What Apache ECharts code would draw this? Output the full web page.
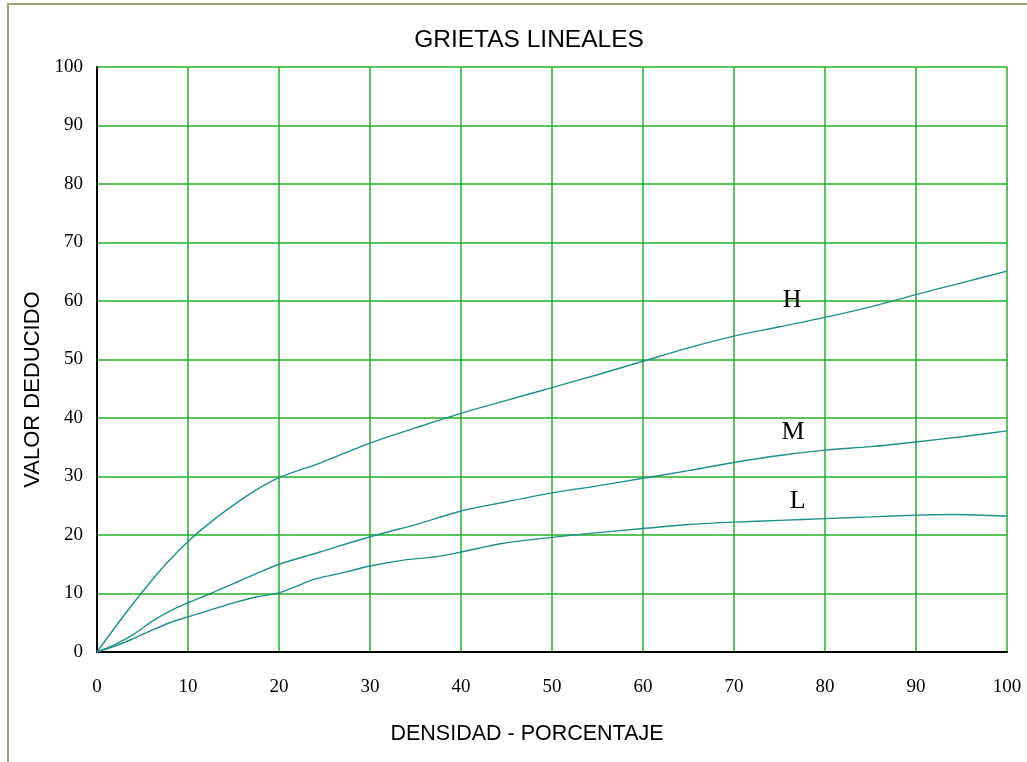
<!DOCTYPE html>
<html>
<head>
<meta charset="utf-8">
<script src="https://cdn.jsdelivr.net/npm/echarts@6/dist/echarts.min.js"></script>
<style>
html,body{margin:0;padding:0;background:#fff;}
#chart{width:1027px;height:762px;}
</style>
</head>
<body>
<div id="chart"></div>
<script>
// Data
const xTicks = [0, 10, 20, 30, 40, 50, 60, 70, 80, 90, 100];
const yTicks = [0, 10, 20, 30, 40, 50, 60, 70, 80, 90, 100];

const seriesH = [[0,0],[2.5,5.3],[5,10.3],[7.5,14.9],[10,18.9],[12.5,22.2],[15,25.1],[17.5,27.7],[20,29.8],[24.5,32.3],[30,35.7],[35,38.3],[40,40.8],[45,43],[50,45.2],[55,47.4],[60,49.7],[65,52],[70,54],[75,55.6],[80,57.2],[85,59],[90,61.1],[95,63.1],[100,65.1]];
const seriesM = [[0,0],[2,1.3],[4,3],[6,5.2],[8,7],[10,8.4],[12.5,10],[15,11.7],[17.5,13.4],[20,15],[24.5,17.1],[30,19.7],[35.5,22],[40,24.1],[44.7,25.6],[50,27.2],[55,28.4],[60,29.7],[65,31],[70,32.4],[75,33.6],[80,34.5],[85,35.1],[90,35.9],[95,36.8],[100,37.8]];
const seriesL = [[0,0],[2,1],[4,2.3],[6,3.7],[8,5],[10,6],[12.5,7.2],[15,8.4],[17.5,9.4],[20,10.1],[22,11.3],[24,12.5],[27.4,13.7],[30,14.7],[33.7,15.7],[37.3,16.3],[40,17.1],[44.7,18.6],[50,19.6],[55,20.4],[60,21.1],[65,21.8],[70,22.2],[75,22.5],[80,22.8],[85,23.1],[90,23.4],[94,23.5],[100,23.2]];

const curveNames = ['H', 'M', 'L'];
const curveLabelPos = [[76.4, 60.2], [76.5, 37.6], [77.0, 25.8]];

const chart = echarts.init(document.getElementById('chart'));
const lineColor = '#1f8f8c';
const gridGreen = '#22b022';
const serif = "'Liberation Serif', 'Times New Roman', serif";
const sans = "'Liberation Sans', Arial, sans-serif";

const allSeries = [seriesH, seriesM, seriesL];

chart.setOption({
  animation: false,
  backgroundColor: '#ffffff',
  title: {
    text: 'GRIETAS LINEALES',
    left: 524,
    top: 23,
    textAlign: 'center',
    textStyle: { fontFamily: sans, fontSize: 24.5, fontWeight: 'normal', color: '#000' }
  },
  graphic: [{
    type: 'rect',
    shape: { x: 8, y: 4, width: 1040, height: 800 },
    style: { fill: 'none', stroke: '#a0a070', lineWidth: 2 },
    silent: true,
    z: -1
  }],
  grid: { left: 97, right: 20, top: 67, bottom: 110, containLabel: false },
  xAxis: {
    type: 'value',
    min: 0, max: 100, interval: 10,
    name: 'DENSIDAD - PORCENTAJE',
    nameLocation: 'middle',
    nameGap: 71,
    nameTextStyle: { fontFamily: sans, fontSize: 21.5, color: '#000', padding: [0, 50, 0, 0] },
    axisLine: { show: true, onZero: false, lineStyle: { color: '#000', width: 2 } },
    axisTick: { show: false },
    splitLine: { show: true, lineStyle: { color: gridGreen, width: 1.5 } },
    axisLabel: {
      fontFamily: serif, fontSize: 19, color: '#000', margin: 26,
      formatter: function (v) { return xTicks.indexOf(v) >= 0 ? String(v) : ''; }
    }
  },
  yAxis: {
    type: 'value',
    min: 0, max: 100, interval: 10,
    name: 'VALOR DEDUCIDO',
    nameLocation: 'middle',
    nameGap: 53,
    nameRotate: 90,
    nameTextStyle: { fontFamily: sans, fontSize: 22, color: '#000', padding: [0, 60, 0, 0] },
    axisLine: { show: true, onZero: false, lineStyle: { color: '#000', width: 2 } },
    axisTick: { show: false },
    splitLine: { show: true, lineStyle: { color: gridGreen, width: 1.5 } },
    axisLabel: {
      fontFamily: serif, fontSize: 19, color: '#000', margin: 14,
      formatter: function (v) { return yTicks.indexOf(v) >= 0 ? String(v) : ''; }
    }
  },
  series: allSeries.map(function (d, i) {
    return {
      name: curveNames[i],
      type: 'line',
      data: d,
      smooth: 0.3,
      showSymbol: false,
      symbol: 'none',
      lineStyle: { color: lineColor, width: 1.4 },
      z: 3,
      markPoint: {
        symbol: 'circle',
        symbolSize: 0,
        data: [{ coord: curveLabelPos[i], value: curveNames[i] }],
        label: {
          show: true,
          position: 'inside',
          formatter: curveNames[i],
          fontFamily: serif,
          fontSize: 26,
          color: '#000'
        }
      }
    };
  })
});
</script>
</body>
</html>
